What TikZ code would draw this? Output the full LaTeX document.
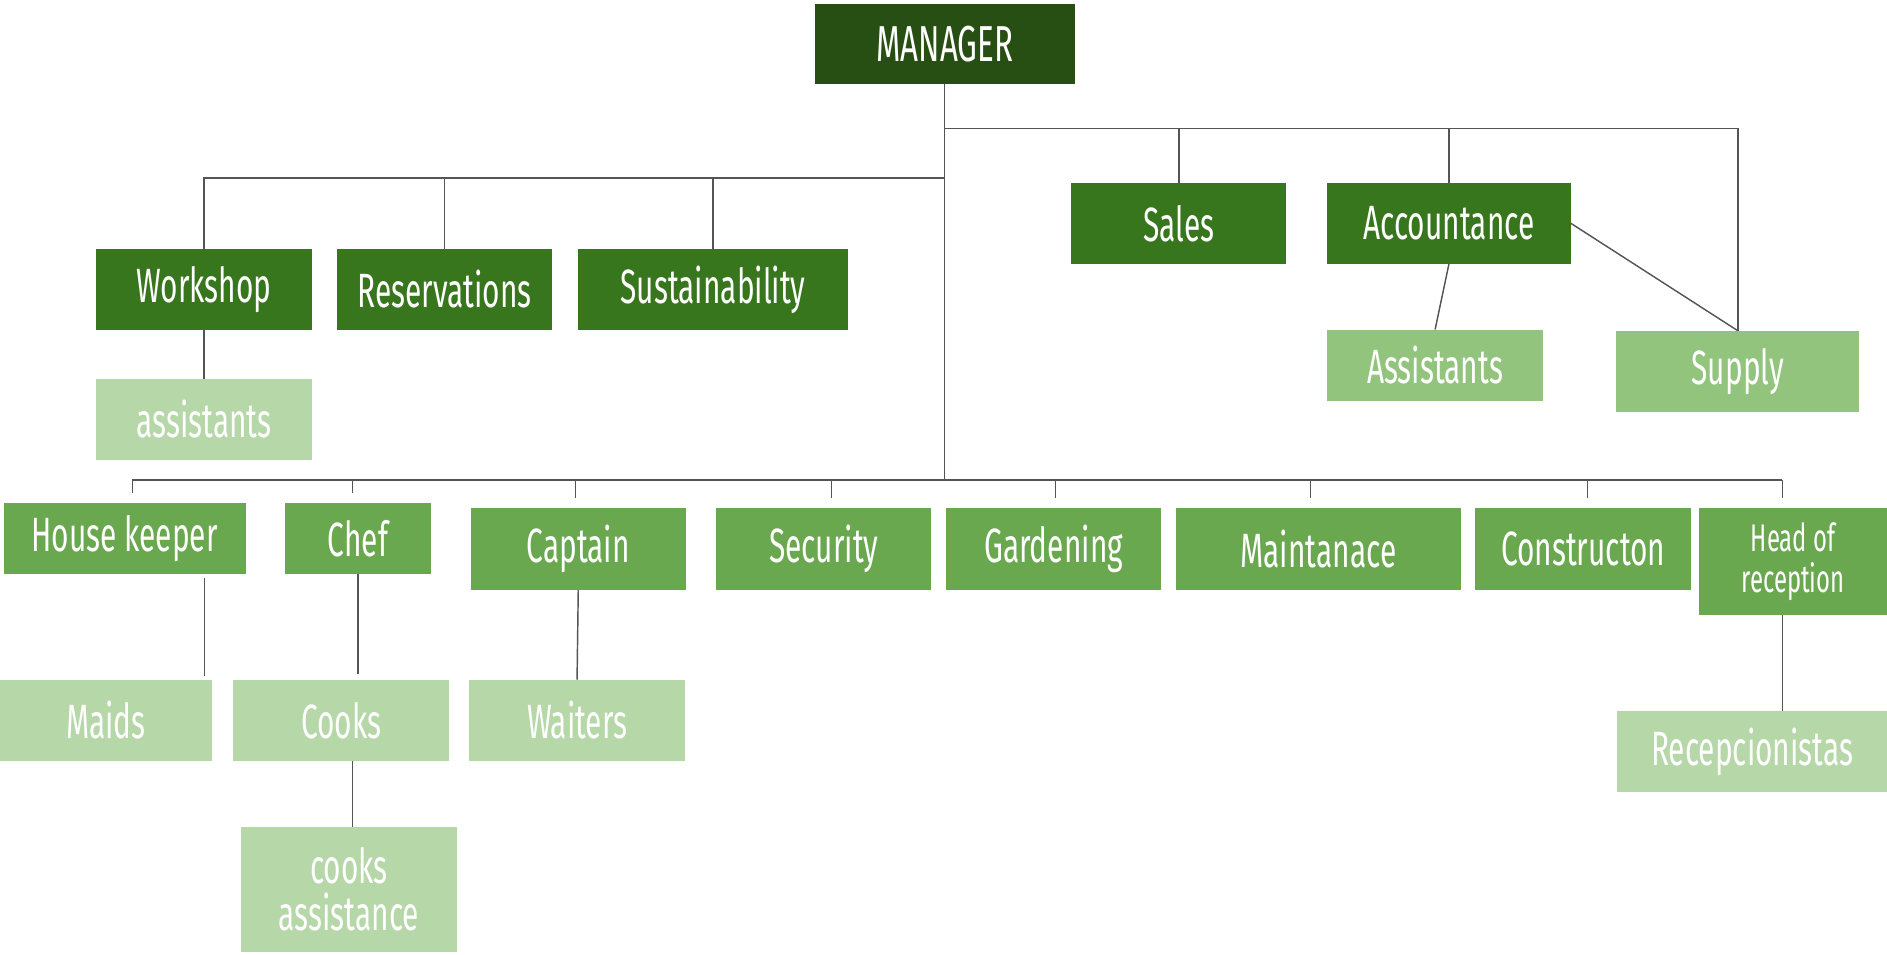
\documentclass[tikz,border=0pt]{standalone}
\usepackage{fontspec}
\setmainfont{Fira Sans}[FakeStretch=0.62]
\usepackage{xcolor}
\usepackage{tikz}

\definecolor{dgreenc}{HTML}{274E13}
\definecolor{dgreenb}{HTML}{38761D}
\definecolor{dgreena}{HTML}{6AA84F}
\definecolor{lgreena}{HTML}{93C47D}
\definecolor{lgreenb}{HTML}{B6D7A8}
\definecolor{linegray}{HTML}{555555}

\begin{document}
\begin{tikzpicture}[x=1pt,y=-1pt,
  box/.style={rectangle,inner sep=0pt,text=white,font=\fontsize{40}{36}\selectfont,align=center},
  top/.style={box,fill=dgreenc,font=\fontsize{42}{42}\selectfont},
  dept/.style={box,fill=dgreenb},
  unit/.style={box,fill=dgreena},
  aide/.style={box,fill=lgreena},
  staff/.style={box,fill=lgreenb},
  link/.style={draw=linegray,line width=1.2pt}]
  \useasboundingbox (0,0) rectangle (1568,793);

  \node[top,minimum width=216pt,minimum height=67pt] (man) at (785,36.5) {MANAGER};

  \node[dept,minimum width=179pt,minimum height=67pt] (work) at (169.5,240.5) {Workshop};
  \node[dept,minimum width=179pt,minimum height=67pt] (res)  at (369.5,240.5) {Reservations};
  \node[dept,minimum width=225pt,minimum height=67pt] (sust) at (592.5,240.5) {Sustainability};
  \node[dept,minimum width=179pt,minimum height=67pt] (sal)  at (979.5,185.5) {Sales};
  \node[dept,minimum width=202pt,minimum height=67pt] (acc)  at (1204,185.5)  {Accountance};

  \node[aide,minimum width=179pt,minimum height=59pt] (acca) at (1192.5,303.5) {Assistants};
  \node[aide,minimum width=202pt,minimum height=67pt] (sup)  at (1444,308.5)   {Supply};
  \node[staff,minimum width=179pt,minimum height=67pt] (worka) at (169.5,348.5) {assistants};

  \node[unit,minimum width=201pt,minimum height=59pt] (hk)   at (103.5,447.5) {House keeper};
  \node[unit,minimum width=121pt,minimum height=59pt] (chef) at (297.5,447.5) {Chef};
  \node[unit,minimum width=179pt,minimum height=68pt] (cap)  at (480.5,456)   {Captain};
  \node[unit,minimum width=179pt,minimum height=68pt] (sec)  at (684.5,456)   {Security};
  \node[unit,minimum width=179pt,minimum height=68pt] (gard) at (875.5,456)   {Gardening};
  \node[unit,minimum width=237pt,minimum height=68pt] (mnt)  at (1095.5,456)  {Maintanace};
  \node[unit,minimum width=179pt,minimum height=68pt] (con)  at (1315.5,456)  {Constructon};
  \node[unit,minimum width=156pt,minimum height=89pt,font=\fontsize{32}{34}\selectfont] (hor) at (1490,466.5) {Head of\\reception};

  \node[staff,minimum width=176pt,minimum height=67pt] (maid) at (88,598.5)    {Maids};
  \node[staff,minimum width=179pt,minimum height=67pt] (cook) at (283.5,598.5) {Cooks};
  \node[staff,minimum width=179pt,minimum height=67pt] (wait) at (479.5,598.5) {Waiters};
  \node[staff,minimum width=180pt,minimum height=104pt,font=\fontsize{40}{39}\selectfont] (cooka) at (290,739) {cooks\\assistance};
  \node[staff,minimum width=224pt,minimum height=67pt] (rec)  at (1456,624.5)  {Recepcionistas};

  % trunk and buses
  \coordinate (rbus) at (785,107);
  \coordinate (lbus) at (785,148);
  \coordinate (bbus) at (785,399);

  \draw[link] (man.south) -- (bbus);
  \draw[link] (rbus) -- (rbus -| sup.north) -- (sup.north);
  \draw[link] (sal.north) -- (sal.north |- rbus);
  \draw[link] (acc.north) -- (acc.north |- rbus);
  \draw[link] (acc.east) -- (sup.north);
  \draw[link] (acc.south) -- (acca.north);

  \draw[link] (lbus) -- (lbus -| work.north) -- (work.north);
  \draw[link] (res.north) -- (res.north |- lbus);
  \draw[link] (sust.north) -- (sust.north |- lbus);
  \draw[link] (work.south) -- (worka.north);

  \draw[link] ([xshift=6.5pt]hk.north |- bbus) -- ([xshift=-9pt]hor.north |- bbus);
  \foreach \n/\dx in {hk/6.5,chef/-4.5,cap/-2.5,sec/6.5,gard/1.5,mnt/-6.5,con/3.5,hor/-9}
    \draw[link,shorten >=8pt] ([xshift=\dx pt]\n.north |- bbus) -- ([xshift=\dx pt]\n.north);

  % lower links
  \draw[link,shorten <=3pt,shorten >=3pt] ([xshift=66.5pt]hk.south) -- ([xshift=82pt]maid.north);
  \draw[link,shorten >=5pt] (chef.south) -- (chef.south |- cook.north);
  \draw[link] ([xshift=3pt]cook.south -| cooka.north) -- ([xshift=3pt]cooka.north);
  \draw[link] (cap.south) -- (wait.north);
  \draw[link] ([xshift=-9pt]hor.south) -- ([xshift=-9pt]hor.south |- rec.north);
\end{tikzpicture}
\end{document}
